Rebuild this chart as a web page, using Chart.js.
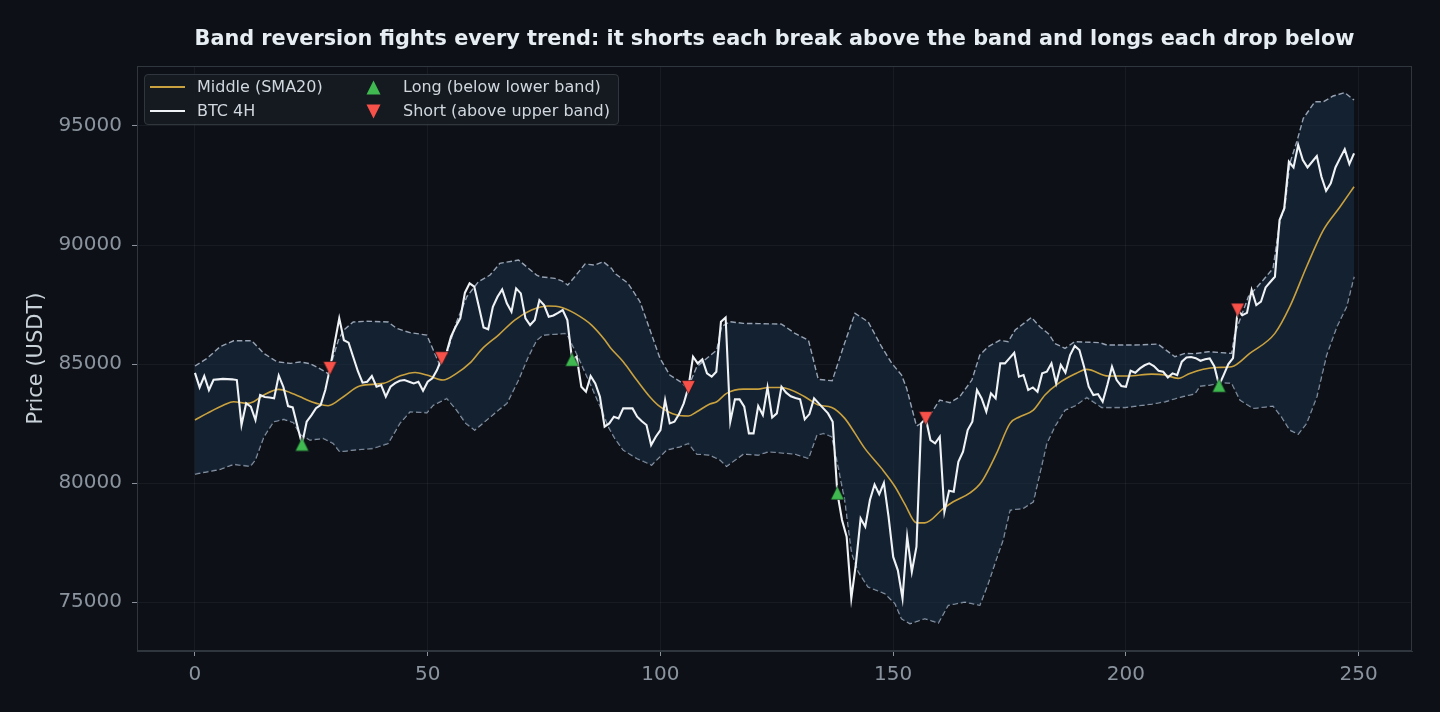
<!DOCTYPE html>
<html><head><meta charset="utf-8">
<script src="https://cdn.jsdelivr.net/npm/chart.js@4.4.1/dist/chart.umd.min.js"></script>
<style>
html,body{margin:0;padding:0;background:#0d1117;}
#wrap{position:relative;width:1440px;height:712px;overflow:hidden;background:#0d1117;font-family:'DejaVu Sans',sans-serif;}
#c{position:absolute;left:0;top:0;}
#title{position:absolute;left:137px;width:1275px;top:26px;height:24px;line-height:24px;text-align:center;color:#e6edf3;font-weight:bold;font-size:20.8px;white-space:nowrap;}
#legend{position:absolute;left:144px;top:74px;width:475px;height:51px;background:rgba(22,27,34,0.95);border:1px solid #30363d;border-radius:4px;box-sizing:border-box;}
.lt{position:absolute;height:24px;line-height:24px;color:#d0d7de;font-size:16px;white-space:nowrap;}
.lh{position:absolute;width:35px;}
.lm{position:absolute;width:15px;height:15px;}
</style></head>
<body>
<div id="wrap">
<canvas id="c" width="1440" height="712"></canvas>
<div id="title">Band reversion fights every trend: it shorts each break above the band and longs each drop below</div>
<div id="legend">
  <div class="lh" style="left:5px;top:11px;height:2px;background:#c9a23f;"></div>
  <div class="lt" style="left:52px;top:0px;">Middle (SMA20)</div>
  <div class="lh" style="left:5px;top:35px;height:2px;background:#f0f3f6;"></div>
  <div class="lt" style="left:52px;top:24px;">BTC 4H</div>
  <svg class="lm" style="left:221px;top:4.5px;" viewBox="0 0 15 15"><polygon points="7.5,0.5 14.5,14.5 0.5,14.5" fill="#3fb950"/></svg>
  <div class="lt" style="left:258px;top:0px;">Long (below lower band)</div>
  <svg class="lm" style="left:221px;top:28.5px;" viewBox="0 0 15 15"><polygon points="0.5,0.5 14.5,0.5 7.5,14.5" fill="#f85149"/></svg>
  <div class="lt" style="left:258px;top:24px;">Short (above upper band)</div>
</div>
</div>
<script>
// ---- data ----
const close = [
84630,84020,84500,83910,84340,84360,84380,84370,84360,84330,
82440,83350,83210,82650,83700,83620,83600,83560,84520,84040,
83235,83180,82400,81640,82580,82850,83150,83280,83910,84820,
85870,86920,86000,85900,85300,84700,84220,84260,84500,84050,
84120,83630,84050,84200,84300,84330,84260,84190,84260,83880,
84260,84400,84750,85230,85450,86150,86570,86920,88000,88390,
88250,87410,86540,86460,87410,87830,88140,87550,87200,88180,
87970,86920,86640,86850,87690,87480,86990,87040,87150,87270,
86850,85200,85310,84050,83840,84500,84190,83630,82370,82510,
82790,82720,83140,83140,83140,82790,82600,82440,81600,81950,
82230,83490,82510,82580,82900,83350,84020,85310,85030,85200,
84610,84470,84680,86780,86960,82580,83520,83520,83210,82090,
82090,83240,82860,84020,82760,82930,84050,83800,83650,83580,
83520,82680,82900,83560,83350,83140,82930,82580,79590,78450,
77750,75160,76630,78520,78170,79290,79940,79540,80010,78590,
76900,76340,75160,77750,76280,77330,82510,82720,81810,81670,
81950,78800,79680,79640,80900,81320,82230,82580,83910,83560,
83000,83770,83560,85030,85030,85250,85470,84470,84540,83910,
84020,83840,84610,84680,85030,84190,84960,84640,85380,85760,
85590,84890,84050,83700,83740,83420,84120,84890,84330,84080,
84050,84720,84640,84820,84950,85030,84920,84720,84680,84440,
84610,84540,85100,85280,85300,85250,85140,85200,85240,84900,
84110,84550,85000,85250,87270,87050,87150,88110,87480,87620,
88220,88450,88670,91050,91540,93500,93260,94200,93570,93260,
93500,93740,92870,92280,92590,93260,93650,94020,93400,93850
];
const middleX = [0,2.6,6.2,8.3,11.2,12.6,14.8,18,20.5,22.6,24.1,26.1,28.6,31.9,35.4,40.5,44,47.3,49.8,53.3,56.2,59.1,61.6,65.2,68.7,72.3,75.9,78.8,81.6,85.2,88.1,89.2,92,94.9,97.7,99.9,103.5,106,107.8,110.6,112.1,114.2,117.8,121,123.2,126,131,133.9,136.8,139.6,141.8,143.9,147.5,150.4,152.5,155,156.8,160.8,162.9,166.5,169,172.2,175.1,177.2,180.1,182.6,185.5,189,191.6,196.2,200.5,205.5,208.4,211.2,213.7,216.6,219.5,222.7,226.6,232,235.2,238.8,242.4,246,249];
const middleY = [82650,82930,83280,83420,83350,83420,83700,83940,83800,83630,83490,83350,83250,83630,84080,84190,84500,84650,84540,84330,84610,85050,85620,86220,86850,87270,87440,87380,87130,86640,86000,85700,85100,84330,83630,83210,82860,82820,83000,83320,83420,83770,83950,83950,84020,84020,83630,83280,83180,82720,82090,81460,80620,79850,79120,78330,78330,78940,79220,79590,80060,81250,82510,82790,83070,83700,84190,84580,84780,84500,84500,84580,84540,84400,84610,84780,84860,84890,85450,86290,87410,89090,90630,91610,92450];
const upperX = [0,2.6,5.4,8.3,12.2,14.8,17.6,20.5,22.6,24.7,26.9,28.6,30.8,31.9,34,36.9,41.5,43.3,46.2,49.8,51.2,52.6,54.1,56.2,58.4,60.9,63.4,65.5,69.5,73.4,74.1,77.3,78.8,80.1,81.6,83.8,85.9,87.7,89.5,90.2,93,95.6,97,99.9,102,104.6,105.8,107.8,112.1,113.1,114.9,117.8,121,126,128.9,131.8,133.9,136.9,139.3,141.8,144.6,147.5,149.7,151.8,152.9,155,157.2,160,162.2,164.3,166.9,168.6,170.4,172.9,174.7,176.2,179.7,181.5,183.5,184.7,186.9,189,194.4,195.9,201.9,206.9,210.5,212.7,214.8,217.7,222.7,223.4,226.3,229.5,231.6,233.1,234.1,235.2,236.7,238.1,240.6,242.4,244.5,247,249];
const upperY = [84920,85240,85730,85980,85980,85450,85100,85030,85090,85020,84800,84600,86000,86420,86770,86800,86770,86500,86320,86220,85590,84960,85450,86770,87830,88460,88740,89230,89370,88740,88670,88600,88500,88320,88670,89200,89160,89300,89020,88810,88400,87620,86850,85240,84540,84220,83950,84890,85590,86570,86780,86710,86700,86680,86290,86000,84360,84300,85730,87130,86780,85730,85030,84540,83980,82400,82650,83490,83380,83630,84330,85380,85730,86000,85940,86430,86960,86570,86250,85870,85660,85940,85900,85800,85800,85840,85310,85450,85440,85520,85450,86290,87830,88530,89020,91050,91540,93430,94340,95320,96020,96020,96260,96400,96090];
const lowerX = [0,2.6,5.4,8.3,11.9,12.95,14.8,16.9,19.1,21.2,22.6,24.7,27.6,29.7,31.1,34,38.3,41.5,44,46.2,49.8,51.2,54.1,56.2,58.2,60.1,65.2,67,69.5,71.6,73.4,74.8,79.5,80.2,82.3,85.2,87.4,88.8,90.2,92,94.9,98.1,101.3,104.2,106,107.8,110.6,112.8,114.2,117.8,121,123.2,128.9,131.8,133.6,135,136.8,137.9,139.6,141.1,142.5,144.6,148.2,150.4,151.8,153.6,156.8,159.7,161.8,165.4,168.6,170.4,172.2,173.6,175.1,177.9,180.1,181.5,183,184.7,186.9,189,191.6,194.8,199.8,205.5,208.4,212,214.8,215.9,218,220.9,222.7,224.5,227.3,231.6,233.4,235.2,237,238.8,241,243.1,245.3,247.4,249];
const lowerY = [80380,80480,80580,80790,80710,80970,81950,82580,82680,82540,82050,81810,81880,81670,81320,81390,81460,81670,82510,83000,82960,83280,83560,83070,82510,82230,83070,83350,84330,85310,86000,86220,86290,86150,85310,84050,83070,82370,81880,81390,81040,80760,81390,81530,81670,81220,81180,80970,80710,81220,81180,81320,81220,81040,82020,82090,81950,80970,79290,77050,76280,75640,75360,74940,74300,74100,74310,74130,74870,75010,74870,75780,76830,77610,78870,78940,79220,80410,81670,82370,83070,83240,83600,83180,83180,83320,83420,83630,83750,84080,84120,84220,84200,83490,83140,83240,82790,82230,82060,82510,83630,85380,86570,87410,88670];
const longIdx = [23,81,138,220];
const shortIdx = [29,53,106,157,224];
const xTicks = [0,50,100,150,200,250];
const yTicks = [75000,80000,85000,90000,95000];

// ---- styling ----
const FONT = "'DejaVu Sans', sans-serif";
const GRID = 'rgba(139,148,158,0.09)';
const BAND_LINE = '#97a3b4';
const BAND_FILL = 'rgba(27,47,70,0.55)';

function triangle(color, down){
  const s = 15, c = document.createElement('canvas');
  c.width = s; c.height = s;
  const g = c.getContext('2d');
  g.beginPath();
  if (!down){ g.moveTo(s/2,0.6); g.lineTo(s-0.6,s-0.6); g.lineTo(0.6,s-0.6); }
  else { g.moveTo(0.6,0.6); g.lineTo(s-0.6,0.6); g.lineTo(s/2,s-0.6); }
  g.closePath();
  g.fillStyle = color; g.fill();
  g.lineWidth = 0.8; g.strokeStyle = 'rgba(13,17,23,0.9)'; g.stroke();
  return c;
}
const pts = (xs, ys) => xs.map((x,i)=>({x:x, y:ys[i]}));

const frame = {
  id:'frame',
  afterDraw(chart){
    const {ctx, chartArea:a} = chart;
    ctx.save();
    ctx.strokeStyle = '#30363d'; ctx.lineWidth = 1;
    ctx.strokeRect(a.left+0.5, a.top+0.5, a.right-a.left-1, a.bottom-a.top-1);
    ctx.restore();
  }
};

new Chart(document.getElementById('c'), {
  type:'line',
  data:{ datasets:[
    {label:'Long (below lower band)', data: longIdx.map(i=>({x:i,y:close[i]})), showLine:false,
     pointStyle: triangle('#3fb950', false), pointRadius:8, pointHoverRadius:8},
    {label:'Short (above upper band)', data: shortIdx.map(i=>({x:i,y:close[i]})), showLine:false,
     pointStyle: triangle('#f85149', true), pointRadius:8, pointHoverRadius:8},
    {label:'BTC 4H', data: close.map((v,i)=>({x:i,y:v})), borderColor:'#f0f3f6', borderWidth:2.1,
     pointRadius:0, tension:0, fill:false},
    {label:'Middle (SMA20)', data: pts(middleX, middleY), borderColor:'#c9a23f', borderWidth:1.6,
     pointRadius:0, cubicInterpolationMode:'monotone', fill:false},
    {label:'Upper', data: pts(upperX, upperY), borderColor:BAND_LINE, borderWidth:1.4, borderDash:[5.5,2.8],
     pointRadius:0, tension:0, fill:'+1', backgroundColor:BAND_FILL},
    {label:'Lower', data: pts(lowerX, lowerY), borderColor:BAND_LINE, borderWidth:1.4, borderDash:[5.5,2.8],
     pointRadius:0, tension:0, fill:false}
  ]},
  options:{
    responsive:false, animation:false, parsing:true,
    layout:{padding:{left:0, right:28, top:66, bottom:0}},
    plugins:{legend:{display:false}, title:{display:false}, tooltip:{enabled:false}},
    scales:{
      x:{type:'linear', min:-12.45, max:261.45,
         afterBuildTicks:s=>{ s.ticks = xTicks.map(v=>({value:v})); },
         afterFit:s=>{ s.height = 61; },
         grid:{color:GRID, tickColor:'#8b949e', tickLength:5, drawTicks:true},
         border:{color:'#30363d', width:1},
         ticks:{color:'#8b949e', font:{family:FONT, size:20}, padding:7, maxRotation:0, autoSkip:false,
                callback:v=>String(v)}
      },
      y:{type:'linear', min:72950, max:97520,
         afterBuildTicks:s=>{ s.ticks = yTicks.map(v=>({value:v})); },
         afterFit:s=>{ s.width = 137; },
         grid:{color:GRID, tickColor:'#8b949e', tickLength:5, drawTicks:true},
         border:{color:'#30363d', width:1},
         title:{display:true, text:'Price (USDT)', color:'#c9d1d9', font:{family:FONT, size:21}, padding:{top:24}},
         ticks:{color:'#8b949e', font:{family:FONT, size:20}, padding:10, autoSkip:false,
                callback:v=>String(v)}
      }
    }
  },
  plugins:[frame]
});
</script>
</body></html>
